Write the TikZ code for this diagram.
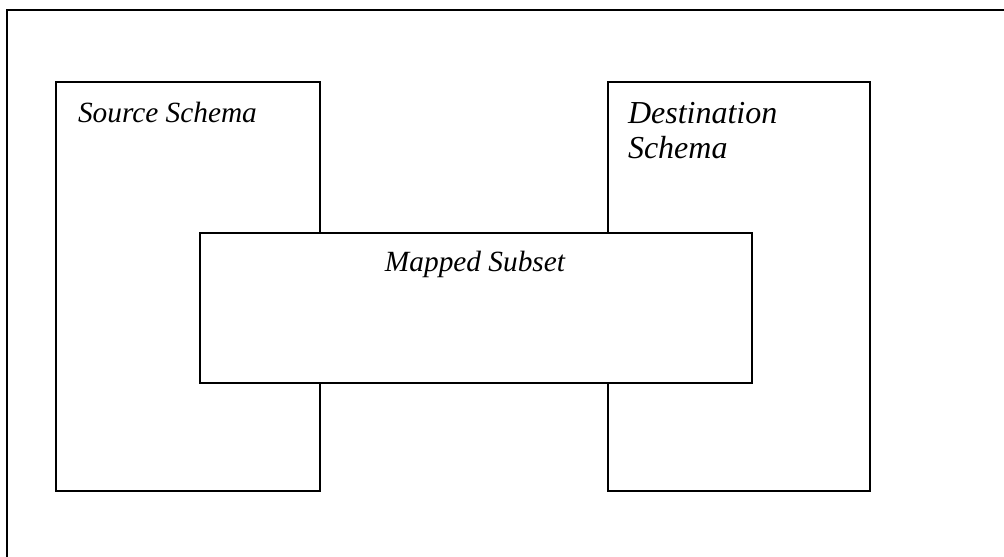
\documentclass[tikz,border=0pt]{standalone}
\usepackage{fontspec}
\setmainfont{Liberation Serif}
\begin{document}
\begin{tikzpicture}[x=0.75pt,y=-0.75pt,
  box/.style={draw=black,line width=1.5pt,fill=white,inner sep=0pt,outer sep=0pt,anchor=north west},
  lbl/.style={font=\fontsize{22pt}{26.25pt}\selectfont\itshape,inner sep=0pt,outer sep=0pt,anchor=base west,align=left}]
\useasboundingbox (0,0) rectangle (1004,557);
\coordinate (fb) at (7,557);
\coordinate (ftl) at (7,10);
\coordinate (fr) at (1004,10);
\draw[line width=1.5pt] (fb) -- (ftl) -- (fr);
\node[box,minimum width=198pt,minimum height=306.75pt] (src) at (56,82) {};
\node[box,minimum width=196.5pt,minimum height=306.75pt] (dst) at (608,82) {};
\node[box,minimum width=414pt,minimum height=112.5pt] (map) at (200,233) {};
\node[lbl] (srct) at (78,122) {Source Schema};
\node[lbl,font=\fontsize{24pt}{26.25pt}\selectfont\itshape] (dstt) at (628,158) {Destination\\Schema};
\node[lbl,anchor=base] (mapt) at (475,271) {Mapped Subset};
\end{tikzpicture}
\end{document}
